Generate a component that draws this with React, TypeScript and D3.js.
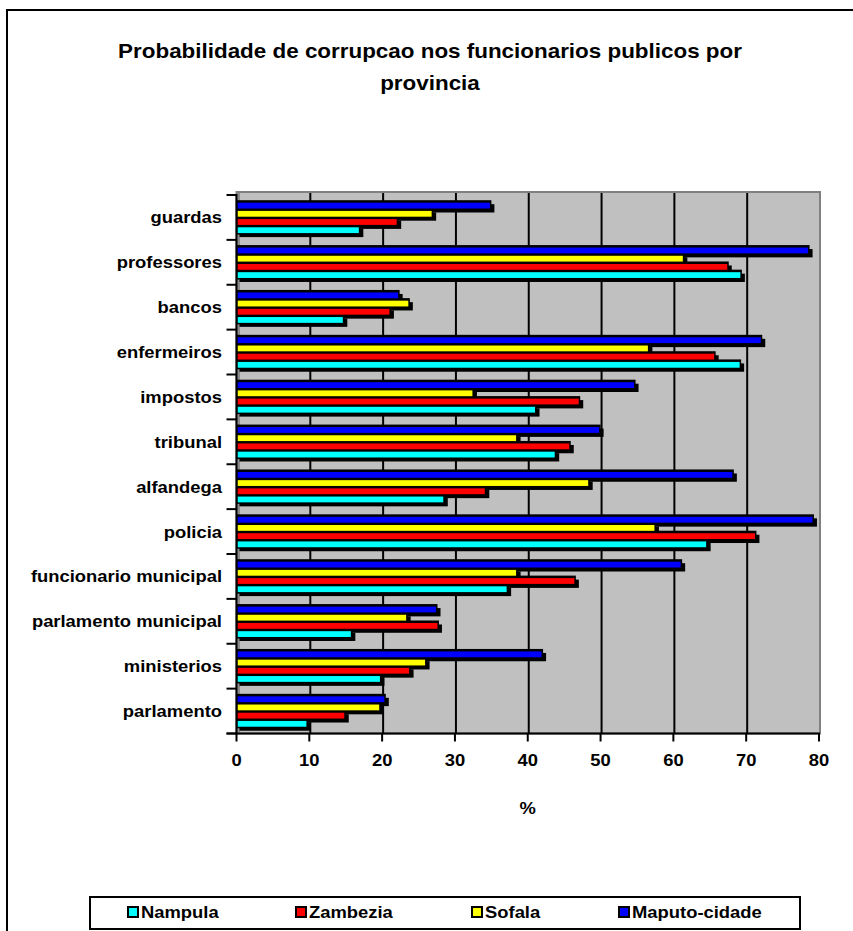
import React from "react";
import * as d3 from "d3";

const categories = [
  "guardas",
  "professores",
  "bancos",
  "enfermeiros",
  "impostos",
  "tribunal",
  "alfandega",
  "policia",
  "funcionario municipal",
  "parlamento municipal",
  "ministerios",
  "parlamento",
];

const seriesNames = ["Nampula", "Zambezia", "Sofala", "Maputo-cidade"];
const seriesColors = ["#00FFFF", "#FF0000", "#FFFF00", "#0000FF"];

const nampula = [16.8, 69.2, 14.6, 69.1, 41.0, 43.7, 28.4, 64.5, 37.1, 15.7, 19.7, 9.6];
const zambezia = [22.0, 67.4, 21.0, 65.6, 47.0, 45.7, 34.1, 71.2, 46.4, 27.6, 23.7, 14.8];
const sofala = [26.8, 61.3, 23.6, 56.5, 32.4, 38.4, 48.3, 57.4, 38.4, 23.3, 25.9, 19.6];
const maputo = [34.8, 78.5, 22.2, 72.0, 54.6, 49.8, 68.1, 79.1, 61.0, 27.4, 41.9, 20.3];

const xTicks = [0, 10, 20, 30, 40, 50, 60, 70, 80];
const titleLines = ["Probabilidade de corrupcao nos funcionarios publicos por", "provincia"];
const xAxisTitle = "%";

const SX = 1.15;
const FONT = "'Liberation Sans', Arial, Helvetica, sans-serif";

function T({ x, y, anchor = "start", size = 16, children }: any) {
  return (
    <text
      transform={`translate(${x},${y}) scale(${SX},1)`}
      textAnchor={anchor}
      fontSize={size}
      fontWeight="bold"
      fontFamily={FONT}
      fill="#000"
    >
      {children}
    </text>
  );
}

export default function App() {
  const W = 853;
  const H = 931;
  const plotLeft = 236.5;
  const plotRight = 819;
  const plotTop = 192;
  const plotBottom = 733.5;

  const x = d3.scaleLinear().domain([0, 80]).range([plotLeft, plotRight]);
  const y = d3.scaleBand<string>().domain(categories).range([195, plotBottom]).padding(0);

  // order within a band: top to bottom Maputo, Sofala, Zambezia, Nampula
  const stack = [
    { values: maputo, color: seriesColors[3] },
    { values: sofala, color: seriesColors[2] },
    { values: zambezia, color: seriesColors[1] },
    { values: nampula, color: seriesColors[0] },
  ];
  const pitch = 8.2;
  const barH = 5.8;
  const firstOff = 7.7;

  const blacks: any[] = [];
  const colored: any[] = [];
  categories.forEach((c, ci) => {
    const y0 = y(c)!;
    stack.forEach((s, si) => {
      const cy = y0 + firstOff + si * pitch;
      const cx0 = x(0) + 1;
      const cx1 = x(s.values[ci]);
      const k = `${ci}-${si}`;
      blacks.push(
        <rect key={"s" + k} x={cx0 + 2} y={cy + 1.5} width={cx1 + 4.5 - cx0 - 2} height={barH + 2.5} fill="#000" />
      );
      blacks.push(
        <rect key={"o" + k} x={cx0 - 1.5} y={cy - 2.5} width={cx1 - cx0 + 3} height={barH + 4} fill="#000" />
      );
      colored.push(
        <rect key={"c" + k} x={cx0} y={cy} width={cx1 - cx0} height={barH} fill={s.color} />
      );
    });
  });

  const legendXs = [128, 296, 472, 619];

  return (
    <svg
      width={W}
      height={H}
      style={{ position: "absolute", left: 0, top: 0, background: "#fff" }}
    >
      {/* outer frame */}
      <rect x={7} y={10} width={1000} height={1000} fill="#fff" stroke="#000" strokeWidth={2} />

      {/* title */}
      {titleLines.map((t, i) => (
        <T key={i} x={430} y={58 + i * 32} anchor="middle" size={19.5}>
          {t}
        </T>
      ))}

      {/* plot area */}
      <rect
        x={plotLeft}
        y={plotTop}
        width={plotRight - plotLeft + 1}
        height={plotBottom - plotTop}
        fill="#C0C0C0"
        stroke="#808080"
        strokeWidth={2}
      />
      <rect x={plotLeft + 0.5} y={plotTop + 1} width={3} height={plotBottom - plotTop - 1} fill="#8c8c8c" />

      {/* gridlines */}
      {xTicks
        .filter((t) => t > 0 && t < 80)
        .map((t) => (
          <line key={t} x1={x(t) + 1} x2={x(t) + 1} y1={plotTop + 1} y2={plotBottom} stroke="#000" strokeWidth={2} />
        ))}

      {/* bars */}
      {blacks}
      {colored}

      {/* y axis */}
      <line x1={plotLeft} x2={plotLeft} y1={plotTop + 2} y2={plotBottom + 1} stroke="#000" strokeWidth={2} />
      {categories.map((c) => (
        <line key={"yt" + c} x1={plotLeft - 10} x2={plotLeft} y1={y(c)!} y2={y(c)!} stroke="#000" strokeWidth={2} />
      ))}
      <line x1={plotLeft - 10} x2={plotLeft} y1={plotBottom} y2={plotBottom} stroke="#000" strokeWidth={2} />
      {categories.map((c) => (
        <T key={"yl" + c} x={222} y={y(c)! + y.bandwidth() / 2 + 6} anchor="end" size={16}>
          {c}
        </T>
      ))}

      {/* x axis */}
      <line x1={plotLeft - 10} x2={plotRight + 1} y1={plotBottom} y2={plotBottom} stroke="#000" strokeWidth={2} />
      {xTicks.map((t) => (
        <line key={"xt" + t} x1={x(t)} x2={x(t)} y1={plotBottom} y2={plotBottom + 8} stroke="#000" strokeWidth={2} />
      ))}
      {xTicks.map((t) => (
        <T key={"xl" + t} x={x(t)} y={766} anchor="middle" size={16}>
          {t}
        </T>
      ))}
      <T x={(plotLeft + plotRight) / 2} y={814} anchor="middle" size={16}>
        {xAxisTitle}
      </T>

      {/* legend */}
      <rect x={90} y={897} width={710} height={32} fill="#fff" stroke="#000" strokeWidth={2} />
      {seriesNames.map((n, i) => (
        <g key={n}>
          <rect x={legendXs[i]} y={907} width={10} height={10} fill={seriesColors[i]} stroke="#000" strokeWidth={2} />
          <T x={legendXs[i] + 13} y={918} size={16}>
            {n}
          </T>
        </g>
      ))}
    </svg>
  );
}
